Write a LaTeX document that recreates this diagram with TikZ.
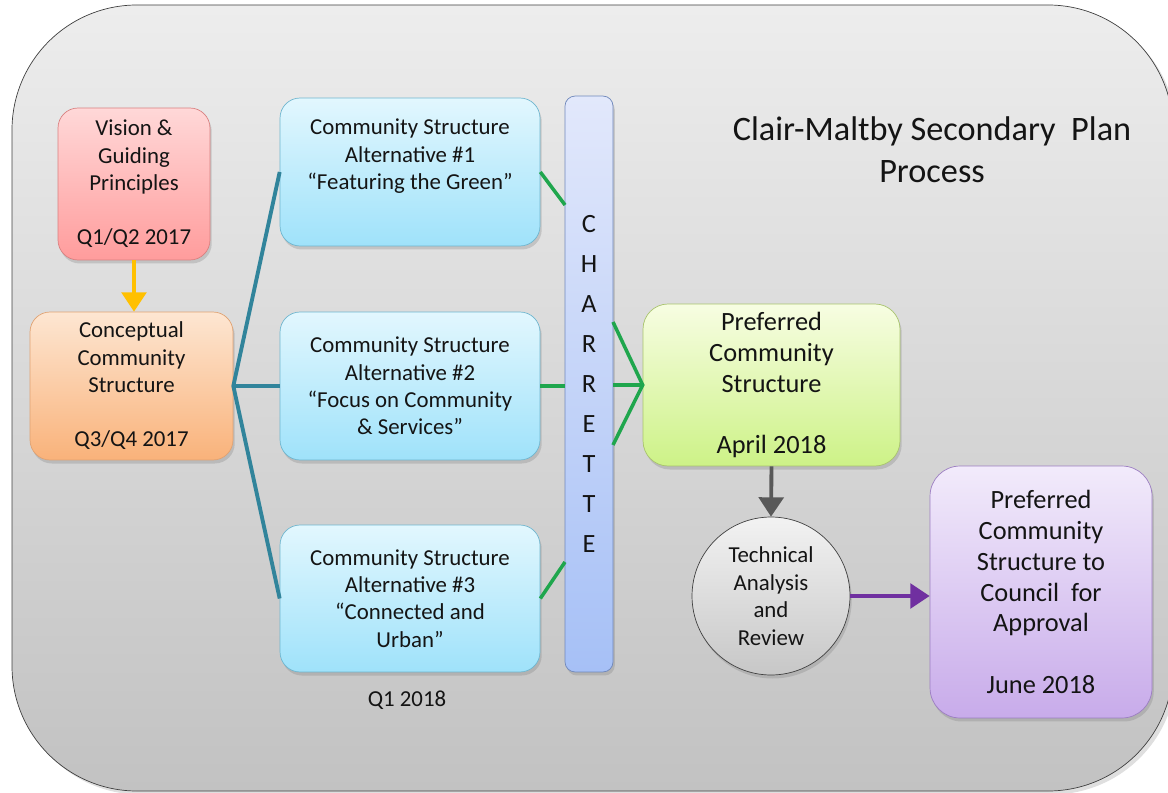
\documentclass[tikz,border=0pt]{standalone}
\usepackage{fontspec}
\setmainfont{Carlito}
\usetikzlibrary{arrows.meta,shadows}
\definecolor{bgtop}{HTML}{EDEDED}
\definecolor{bgbot}{HTML}{C2C2C2}
\definecolor{pinktop}{HTML}{FFD8D8}
\definecolor{pinkbot}{HTML}{FF9C9C}
\definecolor{pinkline}{HTML}{D98080}
\definecolor{orgtop}{HTML}{FDE6D2}
\definecolor{orgbot}{HTML}{F9B27A}
\definecolor{orgline}{HTML}{E0A272}
\definecolor{cyantop}{HTML}{E2F7FE}
\definecolor{cyanbot}{HTML}{9FE2FA}
\definecolor{cyanline}{HTML}{6FB6CF}
\definecolor{bartop}{HTML}{E2E8FB}
\definecolor{barbot}{HTML}{A6C0F6}
\definecolor{barline}{HTML}{7088BB}
\definecolor{grntop}{HTML}{F7FDE2}
\definecolor{grnbot}{HTML}{CDF287}
\definecolor{grnline}{HTML}{A9C46E}
\definecolor{purtop}{HTML}{F2EBFB}
\definecolor{purbot}{HTML}{C8ABEA}
\definecolor{purline}{HTML}{9C7EC2}
\definecolor{linkteal}{HTML}{31849B}
\definecolor{linkgreen}{HTML}{1FA64D}
\definecolor{arrowyel}{HTML}{FFC000}
\definecolor{arrowgray}{HTML}{595959}
\definecolor{arrowpur}{HTML}{7030A0}

\begin{document}
\begin{tikzpicture}[x=0.02cm,y=-0.02cm,
    box/.style={draw,rounded corners=0.4cm,align=center,inner sep=2pt,text=black!92,
      font=\fontsize{13}{15.5}\selectfont,
      drop shadow={opacity=0.3,shadow xshift=1pt,shadow yshift=-2pt}},
    big/.style={font=\fontsize{15}{17.6}\selectfont},
    tealline/.style={draw=linkteal,line width=2.2pt},
    greenline/.style={draw=linkgreen,line width=2pt},
    tip/.style={-{Triangle[width=14pt,length=11pt]},line width=2.2pt}]
  \useasboundingbox (0,0) rectangle (1168,793);
  \begin{scope}
    \clip (0,0) rectangle (1168,793);
    \draw[draw=black!75,top color=bgtop,bottom color=bgbot,rounded corners=2.5cm,
      drop shadow={opacity=0.25,shadow xshift=2pt,shadow yshift=-2pt}]
      (12,5) rectangle (1173,791);
  \end{scope}
  % title
  \node[font=\fontsize{19.5}{24}\selectfont,align=center,text=black!92] (title) at (932,150)
    {Clair-Maltby Secondary~ Plan\\Process};
  % boxes
  \node[box,top color=pinktop,bottom color=pinkbot,draw=pinkline,
    minimum width=3.04cm,minimum height=3.04cm] (vision) at (134,184)
    {Vision \&\\Guiding\\Principles\\[15.5pt]Q1/Q2 2017};
  \node[box,top color=orgtop,bottom color=orgbot,draw=orgline,
    minimum width=4.06cm,minimum height=2.96cm] (concept) at (131.5,386)
    {Conceptual\\Community\\Structure\\[15.5pt]Q3/Q4 2017};
  \node[box,top color=cyantop,bottom color=cyanbot,draw=cyanline,
    minimum width=5.2cm,minimum height=2.96cm] (alt1) at (410,172)
    {Community Structure\\Alternative \#1\\“Featuring the Green”\\ \strut};
  \node[box,top color=cyantop,bottom color=cyanbot,draw=cyanline,
    minimum width=5.2cm,minimum height=2.96cm] (alt2) at (410,386)
    {Community Structure\\Alternative \#2\\“Focus on Community\\\& Services”};
  \node[box,top color=cyantop,bottom color=cyanbot,draw=cyanline,
    minimum width=5.2cm,minimum height=2.94cm] (alt3) at (410,598.5)
    {Community Structure\\Alternative \#3\\“Connected and\\Urban”};
  \node[font=\fontsize{13}{15.5}\selectfont,text=black!92] (q1) at (407,700) {Q1 2018};
  \node[box,rounded corners=0.2cm,top color=bartop,bottom color=barbot,draw=barline,
    minimum width=0.96cm,minimum height=11.52cm,font=\fontsize{15}{22.8}\selectfont]
    (charette) at (589,384) {C\\H\\A\\R\\R\\E\\T\\T\\E};
  \node[box,big,rounded corners=0.5cm,top color=grntop,bottom color=grnbot,draw=grnline,
    minimum width=5.14cm,minimum height=3.24cm] (pref) at (771.5,385)
    {Preferred\\Community\\Structure\\[17.6pt]April 2018};
  \node[box,circle,top color=white!95!black,bottom color=black!22,draw=black!75,
    font=\fontsize{13}{15.7}\selectfont,minimum size=3.16cm] (review) at (771,596)
    {Technical\\Analysis\\and\\Review};
  \node[box,big,rounded corners=0.6cm,top color=purtop,bottom color=purbot,draw=purline,
    minimum width=4.44cm,minimum height=5.04cm] (final) at (1041,592)
    {Preferred\\Community\\Structure to\\Council~ for\\Approval\\[17.6pt]June 2018};
  % connectors
  \coordinate (c1) at (565,205);
  \coordinate (c3) at (565,562);
  \coordinate (d1) at (613,322);
  \coordinate (d3) at (613,445);
  \draw[tip,arrowyel] (vision.south) -- (vision.south |- concept.north);
  \draw[tealline] (alt1.west) -- (concept.east) -- (alt3.west);
  \draw[tealline] (concept.east) -- (alt2.west);
  \draw[greenline] (alt1.east) -- (c1);
  \draw[greenline] (alt2.east) -- (alt2.east -| charette.west);
  \draw[greenline] (alt3.east) -- (c3);
  \draw[greenline] (d1) -- (pref.west) -- (d3);
  \draw[greenline] (charette.east |- pref.west) -- (pref.west);
  \draw[tip,arrowgray] (pref.south) -- (review.north);
  \draw[tip,arrowpur] (review.east) -- (review.east -| final.west);
\end{tikzpicture}
\end{document}
